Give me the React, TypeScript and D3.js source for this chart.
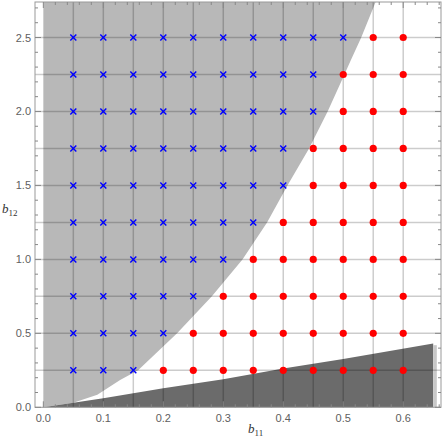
import React from 'react';
import * as d3 from 'd3';

// x ticks (b11) and y ticks (b12)
const xTicks = [0, 0.1, 0.2, 0.3, 0.4, 0.5, 0.6];
const yTicks = [0, 0.5, 1.0, 1.5, 2.0, 2.5];
const xMinor = d3.range(0, 0.661, 0.02);
const yMinor = d3.range(0, 2.74, 0.1);

// sample grid
const columns = [0.05, 0.1, 0.15, 0.2, 0.25, 0.3, 0.35, 0.4, 0.45, 0.5, 0.55, 0.6];
const rows = [0.25, 0.5, 0.75, 1.0, 1.25, 1.5, 1.75, 2.0, 2.25, 2.5];
// last column marked with a cross in each row, the rest are dots
const lastCross = [0.15, 0.2, 0.25, 0.3, 0.35, 0.4, 0.4, 0.45, 0.45, 0.5];

// boundary of the light region (x as a function of y)
const lightB11 = [0, 0.05, 0.09, 0.128, 0.158, 0.223, 0.281, 0.332, 0.373, 0.407, 0.443, 0.474, 0.502, 0.513, 0.53, 0.554];
const lightB12 = [0, 0.03, 0.085, 0.184, 0.25, 0.5, 0.75, 1.0, 1.25, 1.5, 1.75, 2.0, 2.25, 2.35, 2.5, 2.74];

// top of the dark region
const darkB11 = [0, 0.1, 0.2, 0.3, 0.4, 0.5, 0.65];
const darkB12 = [0, 0.061, 0.128, 0.19, 0.263, 0.326, 0.432];

const W = 445;
const H = 437;

export default function App() {
  const x = d3.scaleLinear().domain([-0.0139, 0.663]).range([35, 441]);
  const y = d3.scaleLinear().domain([0, 2.74]).range([407.3, 2]);
  const line = d3.line<[number, number]>().x(d => x(d[0])).y(d => y(d[1]));

  const lightPts: [number, number][] = lightB11.map((v, i) => [v, lightB12[i]]);
  lightPts.push([0, 2.74]);
  const darkPts: [number, number][] = darkB11.map((v, i) => [v, darkB12[i]]);
  darkPts.push([0.65, 0]);

  const pts: { bx: number; by: number; cross: boolean }[] = [];
  rows.forEach((r, i) => {
    columns.forEach(c => pts.push({ bx: c, by: r, cross: c <= lastCross[i] + 1e-9 }));
  });

  const tickColor = '#888';
  const labelStyle = { fontFamily: 'Liberation Sans, Arial, sans-serif', fontSize: 11, fill: '#606060' };

  return (
    <svg width={W} height={H} style={{ position: 'absolute', left: 0, top: 0 }}>
      <rect width={W} height={H} fill="#fff" />
      <path d={line(lightPts) + 'Z'} fill="#b8b8b8" />
      <path d={line(darkPts) + 'Z'} fill="#6b6b6b" />
      <rect x={x(0.65)} y={y(0.42)} width={x(0.656) - x(0.65)} height={y(0) - y(0.42)} fill="#c8c8c8" />

      {/* grid */}
      {columns.map(c => (
        <line key={'gx' + c} x1={x(c)} x2={x(c)} y1={y(0)} y2={y(2.74)} stroke="#000" strokeOpacity={0.2} strokeWidth={1.5} />
      ))}
      {rows.map(r => (
        <line key={'gy' + r} x1={x.range()[0]} x2={x.range()[1]} y1={y(r)} y2={y(r)} stroke="#000" strokeOpacity={0.2} strokeWidth={1.5} />
      ))}

      {/* frame */}
      <rect x={35} y={y(2.74)} width={441 - 35} height={y(0) - y(2.74)} fill="none" stroke="#999" strokeWidth={1} />
      {xMinor.map(t => {
        const major = xTicks.some(m => Math.abs(m - t) < 1e-6);
        const len = major ? 6 : 3;
        return (
          <g key={'xt' + t}>
            <line x1={x(t)} x2={x(t)} y1={y(0)} y2={y(0) - len} stroke={tickColor} />
            <line x1={x(t)} x2={x(t)} y1={y(2.74)} y2={y(2.74) + len} stroke={tickColor} />
          </g>
        );
      })}
      {yMinor.map(t => {
        const major = yTicks.some(m => Math.abs(m - t) < 1e-6);
        const len = major ? 6 : 3;
        return (
          <g key={'yt' + t}>
            <line x1={35} x2={35 + len} y1={y(t)} y2={y(t)} stroke={tickColor} />
            <line x1={441} x2={441 - len} y1={y(t)} y2={y(t)} stroke={tickColor} />
          </g>
        );
      })}

      {/* markers */}
      {pts.map(p =>
        p.cross ? (
          <g key={'p' + p.bx + '_' + p.by} stroke="#0000ff" strokeWidth={1.4}>
            <line x1={x(p.bx) - 3} x2={x(p.bx) + 3} y1={y(p.by) - 3} y2={y(p.by) + 3} />
            <line x1={x(p.bx) - 3} x2={x(p.bx) + 3} y1={y(p.by) + 3} y2={y(p.by) - 3} />
          </g>
        ) : (
          <circle key={'p' + p.bx + '_' + p.by} cx={x(p.bx)} cy={y(p.by)} r={3.6} fill="#ff0000" />
        )
      )}

      {/* tick labels */}
      {xTicks.map(t => (
        <text key={'xl' + t} x={x(t)} y={422} textAnchor="middle" {...labelStyle}>{t.toFixed(1)}</text>
      ))}
      {yTicks.map(t => (
        <text key={'yl' + t} x={31} y={y(t) + 4} textAnchor="end" {...labelStyle}>{t.toFixed(1)}</text>
      ))}

      {/* axis labels */}
      <text x={248} y={433} fontFamily="Liberation Serif, serif" fontSize={13} fill="#333">
        <tspan fontStyle="italic">b</tspan>
        <tspan fontSize={9} dy={2.5}>11</tspan>
      </text>
      <text x={2} y={213} fontFamily="Liberation Serif, serif" fontSize={13} fill="#333">
        <tspan fontStyle="italic">b</tspan>
        <tspan fontSize={9} dy={2.5}>12</tspan>
      </text>
    </svg>
  );
}
